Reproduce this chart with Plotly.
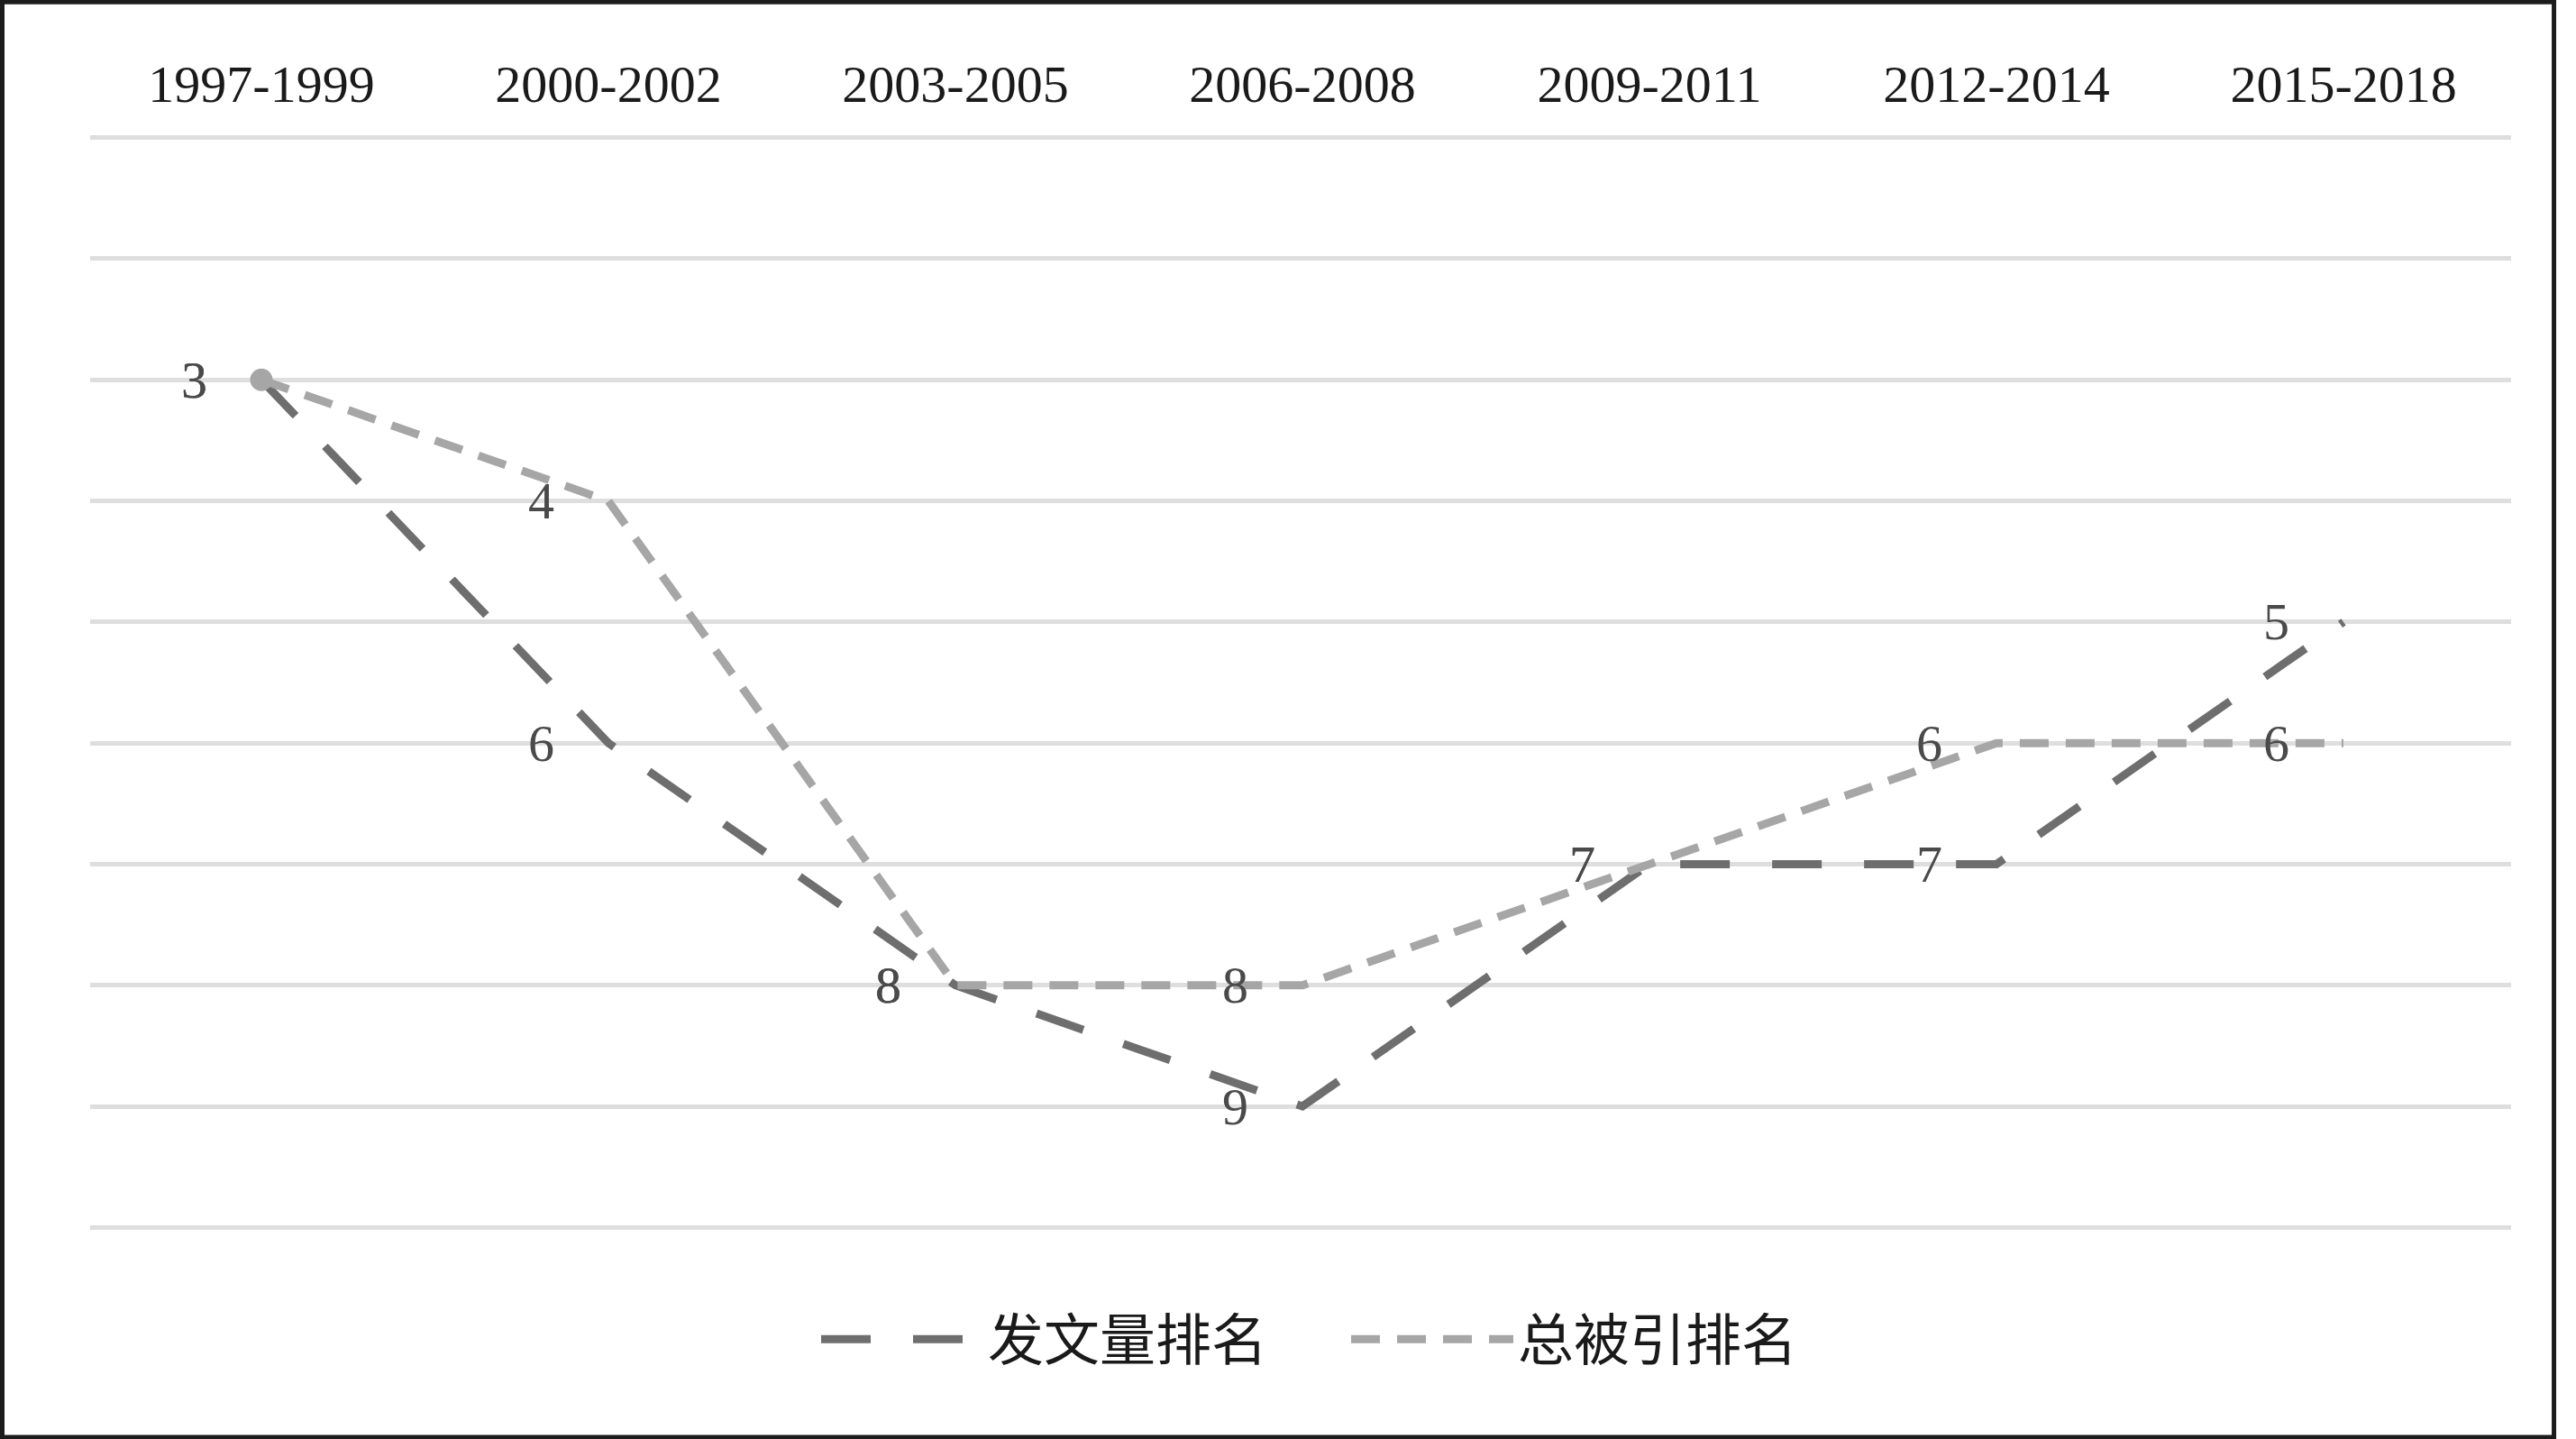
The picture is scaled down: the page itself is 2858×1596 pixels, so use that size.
import plotly.graph_objects as go

# ---- data ----
periods = ["1997-1999", "2000-2002", "2003-2005", "2006-2008",
           "2009-2011", "2012-2014", "2015-2018"]
pub_rank = [3, 6, 8, 9, 7, 7, 5]      # 发文量排名
cite_rank = [3, 4, 8, 8, 7, 6, 6]     # 总被引排名
rank_ticks = [1, 2, 3, 4, 5, 6, 7, 8, 9, 10]
series_names = ["发文量排名", "总被引排名"]

dark = "#6e6e6e"
light = "#a6a6a6"

fig = go.Figure()
fig.add_trace(go.Scatter(
    x=periods, y=pub_rank, name=series_names[0], mode="lines",
    line=dict(color=dark, width=9, dash="55px,47px"),
))
fig.add_trace(go.Scatter(
    x=periods, y=cite_rank, name=series_names[1], mode="lines",
    line=dict(color=light, width=9, dash="32px,19px"),
))
# oval start cap of the citation series
fig.add_trace(go.Scatter(
    x=periods[:1], y=cite_rank[:1], mode="markers", showlegend=False,
    marker=dict(size=25, color=light), hoverinfo="skip",
))

# data labels (placed left of each point)
label_font = dict(family="Liberation Serif", size=58, color="#4a4a4a")
annotations = []
for series in (pub_rank, cite_rank):
    for p, r in zip(periods, series):
        annotations.append(dict(
            x=p, y=r, xref="x", yref="y", text=str(r), showarrow=False,
            xanchor="center", yanchor="middle", xshift=-75, font=label_font,
        ))

fig.update_layout(
    width=2858, height=1596,
    margin=dict(l=100, r=72, t=150, b=232),
    paper_bgcolor="white", plot_bgcolor="white",
    annotations=annotations,
    showlegend=True,
    legend=dict(
        orientation="h", x=0.519, xanchor="center", y=-0.10, yanchor="middle",
        font=dict(family="Noto Sans CJK SC", size=62, color="#1a1a1a"),
        itemwidth=180, entrywidth=393,
    ),
    xaxis=dict(
        side="top", type="category", range=[-0.4935, 6.483],
        showgrid=False, showline=False, ticks="", zeroline=False,
        tickfont=dict(family="Liberation Serif", size=58, color="#1a1a1a"),
        ticklabelstandoff=24,
    ),
    yaxis=dict(
        range=[10.02, 0.98], tickvals=rank_ticks, showticklabels=False,
        gridcolor="#dedede", gridwidth=5, zeroline=False, showline=False,
    ),
    shapes=[dict(
        type="rect", xref="paper", yref="paper",
        x0=-0.0363, x1=1.0177, y0=-0.1894, y1=1.1218,
        line=dict(color="#1c1c1c", width=5), fillcolor="rgba(0,0,0,0)",
        layer="above",
    )],
)

fig.write_html(
    "out.html",
    config={"displayModeBar": False},
    post_script="document.body.style.margin='0';document.body.style.overflow='hidden';",
)
